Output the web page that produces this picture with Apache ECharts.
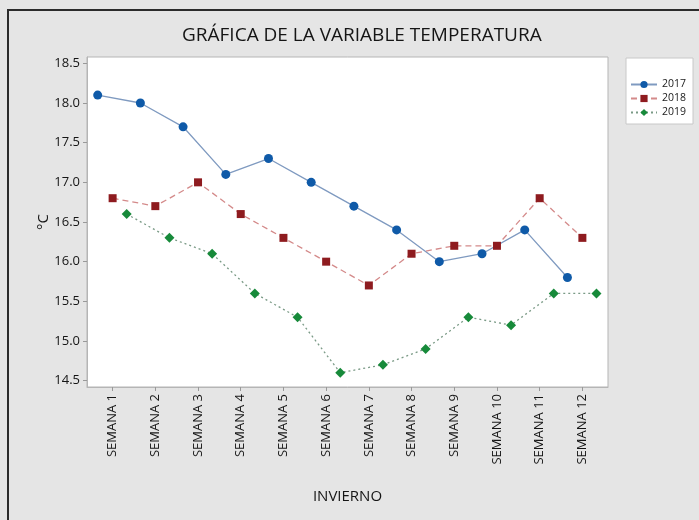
<!DOCTYPE html>
<html>
<head>
<meta charset="utf-8">
<script src="https://cdn.jsdelivr.net/npm/echarts@6/dist/echarts.min.js"></script>
<style>
  html, body { margin: 0; padding: 0; background: #e5e5e5; }
  #chart { width: 699px; height: 520px; }
</style>
</head>
<body>
<div id="chart"></div>
<script>
// semanas del invierno
const weeks = [1, 2, 3, 4, 5, 6, 7, 8, 9, 10, 11, 12]
const weekLabels = weeks.map(w => 'SEMANA ' + w)
const yTicks = [14.5, 15.0, 15.5, 16.0, 16.5, 17.0, 17.5, 18.0, 18.5]

// temperatura por año
const temp2017 = [18.1, 18.0, 17.7, 17.1, 17.3, 17.0, 16.7, 16.4, 16.0, 16.1, 16.4, 15.8]
const temp2018 = [16.8, 16.7, 17.0, 16.6, 16.3, 16.0, 15.7, 16.1, 16.2, 16.2, 16.8, 16.3]
const temp2019 = [16.6, 16.3, 16.1, 15.6, 15.3, 14.6, 14.7, 14.9, 15.3, 15.2, 15.6, 15.6]

const years = ['2017', '2018', '2019']
const offsets = [-0.35, 0, 0.33] // desplazamiento de cada grupo dentro de la semana

const font = '"Open Sans", "Noto Sans", sans-serif'

function toPoints(values, k) {
  return values.map((v, i) => [weeks[i] + offsets[k], v])
}

const chart = echarts.init(document.getElementById('chart'))

chart.setOption({
  backgroundColor: '#e5e5e5',
  animation: false,
  title: {
    text: 'GRÁFICA DE LA VARIABLE TEMPERATURA',
    left: 177,
    top: 21,
    textStyle: { fontFamily: font, fontSize: 19, fontWeight: 'normal', color: '#151515' }
  },
  grid: {
    left: 87, right: 91, top: 57, bottom: 133,
    show: true,
    backgroundColor: '#ffffff',
    borderColor: '#b5b5b5',
    borderWidth: 1
  },
  legend: {
    orient: 'vertical',
    left: 626,
    top: 58,
    padding: [21, 7, 6, 4],
    itemGap: 3,
    itemWidth: 26,
    itemHeight: 9,
    backgroundColor: '#ffffff',
    borderColor: '#c8c8c8',
    borderWidth: 1,
    borderRadius: 0,
    textStyle: { fontFamily: font, fontSize: 10.5, color: '#1a1a1a' },
    data: years
  },
  graphic: [
    {
      type: 'text',
      left: 662,
      top: 64,
      style: { text: 'AÑO', fontFamily: font, fontSize: 10.5, fill: '#1a1a1a' }
    },
    {
      type: 'rect',
      shape: { x: 8, y: 10, width: 700, height: 520 },
      style: { fill: 'none', stroke: '#2b2b2b', lineWidth: 2 },
      silent: true
    }
  ],
  xAxis: {
    type: 'value',
    min: 0.4,
    max: 12.6,
    name: 'INVIERNO',
    nameLocation: 'middle',
    nameGap: 102,
    nameMoveOverlap: false,
    nameTextStyle: { fontFamily: font, fontSize: 15, color: '#151515' },
    splitLine: { show: false },
    axisLine: { show: true, lineStyle: { color: '#b5b5b5' } },
    axisTick: { show: true, customValues: weeks, length: 4, lineStyle: { color: '#999' } },
    axisLabel: {
      customValues: weeks,
      rotate: 90,
      margin: 7,
      fontFamily: font,
      fontSize: 13,
      color: '#151515',
      formatter: v => weekLabels[Math.round(v) - 1]
    }
  },
  yAxis: {
    type: 'value',
    min: 14.42,
    max: 18.58,
    name: '°C',
    nameLocation: 'middle',
    nameGap: 36,
    nameMoveOverlap: false,
    nameRotate: 90,
    nameTextStyle: { fontFamily: font, fontSize: 15, color: '#151515' },
    splitLine: { show: false },
    axisLine: { show: true, lineStyle: { color: '#b5b5b5' } },
    axisTick: { show: true, customValues: yTicks, length: 4, lineStyle: { color: '#999' } },
    axisLabel: {
      customValues: yTicks,
      margin: 7,
      fontFamily: font,
      fontSize: 13,
      color: '#151515',
      formatter: v => v.toFixed(1)
    }
  },
  series: [
    {
      name: '2017',
      type: 'line',
      data: toPoints(temp2017, 0),
      symbol: 'circle',
      symbolSize: 9,
      itemStyle: { color: '#0f5aa8' },
      lineStyle: { color: '#7f9ac0', width: 1.3, type: 'solid' }
    },
    {
      name: '2018',
      type: 'line',
      data: toPoints(temp2018, 1),
      symbol: 'rect',
      symbolSize: 8,
      itemStyle: { color: '#8e1b1f' },
      lineStyle: { color: '#d48a8a', width: 1.3, type: [6, 4] }
    },
    {
      name: '2019',
      type: 'line',
      data: toPoints(temp2019, 2),
      symbol: 'diamond',
      symbolSize: 10,
      itemStyle: { color: '#178a3a' },
      lineStyle: { color: '#7a9a86', width: 1.3, type: [2, 3] }
    }
  ]
})
</script>
</body>
</html>
